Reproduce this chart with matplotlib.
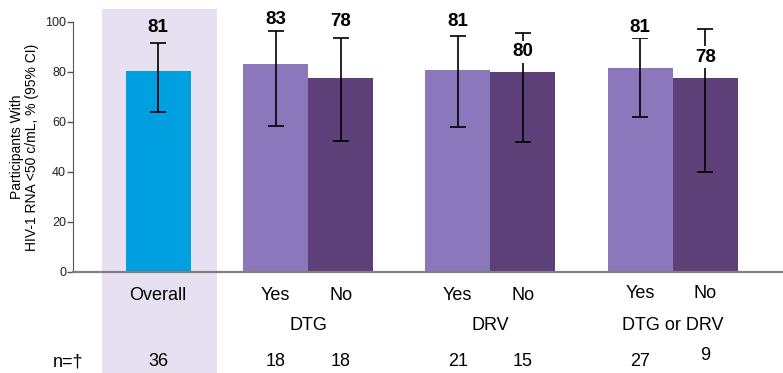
import matplotlib
matplotlib.use("Agg")
import matplotlib.pyplot as plt
from matplotlib.patches import Rectangle

plt.rcParams['font.family'] = ['Liberation Sans', 'DejaVu Sans']

# percentages, 95% CI and group sizes
groups = ["Overall", "DTG", "DTG", "DRV", "DRV", "DTG or DRV", "DTG or DRV"]
subgroups = ["", "Yes", "No", "Yes", "No", "Yes", "No"]
pct = [80.6, 83.3, 77.8, 81.0, 80.0, 81.48, 77.8]
ci_low = [64.0, 58.6, 52.4, 58.1, 51.9, 61.9, 40.0]
ci_high = [91.8, 96.4, 93.6, 94.6, 95.7, 93.7, 97.2]
n_vals = ["36", "18", "18", "21", "15", "27", "9"]

# layout (x in units of 100 px)
xpos = [1.58, 2.758, 3.408, 4.578, 5.228, 6.402, 7.052]
width = 0.65
colors = ["#009FDF", "#8B77BC", "#5C4077", "#8B77BC", "#5C4077", "#8B77BC", "#5C4077"]
label_y = [98, 101, 100.4, 100.4, 88, 98, 86]
sub_y = [-0.096, -0.096, -0.096, -0.096, -0.096, -0.084, -0.084]
n_y = [-0.36, -0.36, -0.36, -0.36, -0.36, -0.36, -0.332]

fig = plt.figure(figsize=(7.83, 3.73), dpi=100)
ax = fig.add_axes([73 / 783, 101 / 373, 1 - 73 / 783, 250 / 373])

trans = ax.get_xaxis_transform()
ax.add_patch(Rectangle((1.02, -0.404), 1.15, 1.456, transform=trans,
                       facecolor="#E6E0F0", edgecolor="none", clip_on=False, zorder=0))

ax.bar(xpos, pct, width=width, color=colors, zorder=2)
err = [[p - lo for p, lo in zip(pct, ci_low)], [hi - p for p, hi in zip(pct, ci_high)]]
ax.errorbar(xpos, pct, yerr=err, fmt="none", ecolor="black", elinewidth=1.2,
            capsize=5.8, capthick=1.2, zorder=3)

for i, (x, p) in enumerate(zip(xpos, pct)):
    box = None if i == 0 else dict(facecolor="white", edgecolor="none", pad=1.5)
    ax.text(x, label_y[i], f"{round(p)}", ha="center", va="center", fontsize=13.5,
            fontweight="bold", bbox=box, zorder=4)

# category labels under the axis
fs = 13
ax.text(xpos[0], sub_y[0], groups[0], transform=trans, ha="center", va="center", fontsize=fs)
for i in range(1, len(xpos)):
    ax.text(xpos[i], sub_y[i], subgroups[i], transform=trans, ha="center", va="center", fontsize=fs)
for g in range(1, len(xpos), 2):
    ax.text((xpos[g] + xpos[g + 1]) / 2, -0.216, groups[g], transform=trans,
            ha="center", va="center", fontsize=fs)

ax.text(0.685, -0.36, "n=†", transform=trans, ha="center", va="center", fontsize=fs)
for i, x in enumerate(xpos):
    ax.text(x, n_y[i], n_vals[i], transform=trans, ha="center", va="center", fontsize=fs)

ax.set_xlim(0.73, 7.83)
ax.set_ylim(0, 100)
ax.set_yticks(range(0, 101, 20))
ax.set_xticks([])
ax.tick_params(axis="y", labelsize=9, colors="#555555", labelcolor="#222222", length=4, width=1,
               pad=1)
ax.spines["top"].set_visible(False)
ax.spines["right"].set_visible(False)
ax.spines["left"].set_color("#555555")
ax.spines["bottom"].set_color("#808080")
ax.spines["bottom"].set_linewidth(1.6)
ax.spines["bottom"].set_zorder(5)
ax.set_ylabel("Participants With\nHIV-1 RNA <50 c/mL, % (95% CI)", fontsize=10, labelpad=4,
              linespacing=1.1)
ax.patch.set_alpha(0)

fig.savefig("out.png", dpi=100)
